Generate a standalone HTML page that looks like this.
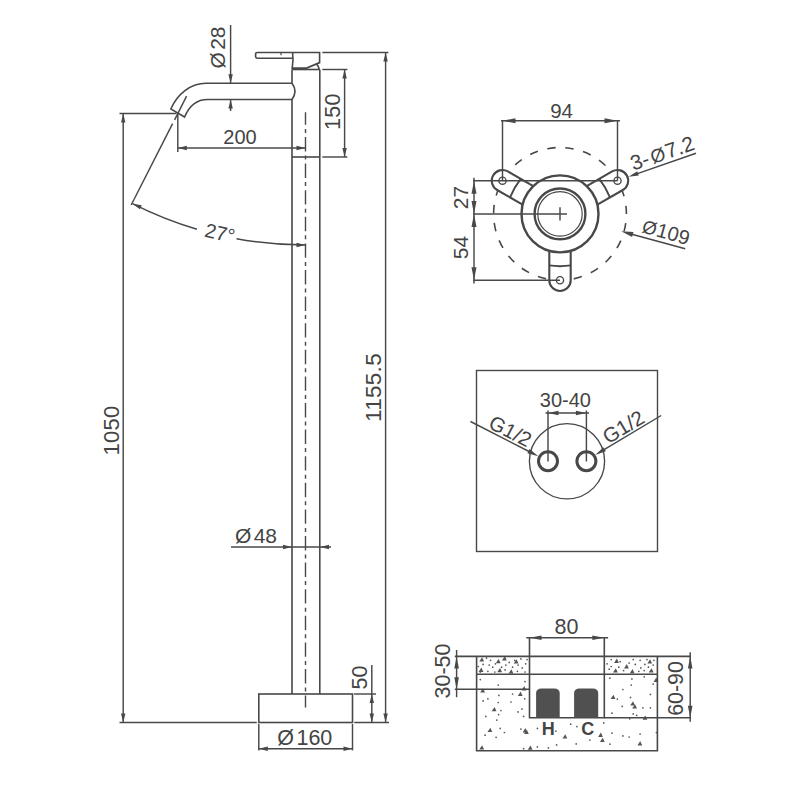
<!DOCTYPE html>
<html lang="en">
<head>
<meta charset="utf-8">
<title>Freestanding mixer – dimension drawing</title>
<style>
html,body{margin:0;padding:0;background:#fff;}
body{width:800px;height:800px;overflow:hidden;}
svg{display:block;}
svg text{font-family:"Liberation Sans",Arial,Helvetica,sans-serif;fill:#444444;stroke:none;}
</style>
</head>
<body>
<svg width="800" height="800" viewBox="0 0 800 800" fill="none" stroke="#484848" stroke-linecap="butt" stroke-linejoin="miter">
<rect x="0" y="0" width="800" height="800" fill="#ffffff" stroke="none"/>
<g id="main-view">
<path d="M292.0,69.5 L292.0,83.2 Q298.0,91.3 292.0,99.5 L292.0,694.0" stroke-width="1.6" />
<line x1="319.80" y1="69.50" x2="319.80" y2="694.00" stroke-width="1.6" />
<line x1="292.00" y1="69.50" x2="319.80" y2="69.50" stroke-width="1.6" />
<line x1="292.00" y1="157.00" x2="319.80" y2="157.00" stroke-width="1.6" />
<rect x="258.8" y="694.0" width="93.69999999999999" height="28.5" fill="none" stroke-width="1.6"/>
<path d="M292.6,58.2 L257.2,58.2 Q255.6,58.2 255.6,56.6 L255.6,54.1 Q255.6,52.5 257.2,52.5 L319.6,52.5 L319.6,62.6 L306.6,68.1 L292.2,68.1 Q293.6,60 292.6,52.5" stroke-width="1.6" />
<path d="M316.6,64.2 Q318.6,66 319.2,69.5" stroke-width="1.6" />
<line x1="281.00" y1="52.50" x2="281.00" y2="55.20" stroke-width="1.2" />
<path d="M292.0,83.2 L206,83.2 C191,83.2 177.5,93.5 170.8,109 L184.6,117 C189,106.5 196.5,99.5 207.5,99.5 L292.0,99.5" stroke-width="1.6" />
<line x1="186.60" y1="96.20" x2="174.60" y2="119.80" stroke-width="1.45" />
<line x1="172.60" y1="123.70" x2="131.20" y2="205.00" stroke-width="1.45" />
<path d="M132.53,203.63 A382.3,382.3 0 0 0 196.92,229.26" stroke-width="1.45" />
<path d="M236.49,238.72 A382.3,382.3 0 0 0 305.50,245.00" stroke-width="1.45" />
<polygon points="132.53,203.63 141.68,205.14 139.95,209.19" fill="#484848" stroke="none"/>
<polygon points="305.50,245.00 296.50,247.20 296.50,242.80" fill="#484848" stroke="none"/>
<text x="218.40" y="240.00" font-size="20" text-anchor="middle" transform="rotate(13 218.40 240.00)" >27°</text>
<line x1="305.5" y1="112.3" x2="305.5" y2="707.6" stroke-width="1.4" stroke-dasharray="14.4 4.1 4 4.1" stroke-dashoffset="1.9"/>
<line x1="119.50" y1="113.50" x2="176.50" y2="113.50" stroke-width="1.45" />
<line x1="119.50" y1="722.50" x2="256.80" y2="722.50" stroke-width="1.45" />
<line x1="123.20" y1="113.50" x2="123.20" y2="722.50" stroke-width="1.45" />
<polygon points="123.20,113.50 125.40,122.50 121.00,122.50" fill="#484848" stroke="none"/>
<polygon points="123.20,722.50 121.00,713.50 125.40,713.50" fill="#484848" stroke="none"/>
<text x="119.30" y="430.50" font-size="22" text-anchor="middle" transform="rotate(-90 119.30 430.50)" letter-spacing="0.2">1050</text>
<line x1="322.30" y1="52.40" x2="388.40" y2="52.40" stroke-width="1.45" />
<line x1="354.30" y1="722.50" x2="389.00" y2="722.50" stroke-width="1.45" />
<line x1="385.60" y1="52.40" x2="385.60" y2="722.50" stroke-width="1.45" />
<polygon points="385.60,52.40 387.80,61.40 383.40,61.40" fill="#484848" stroke="none"/>
<polygon points="385.60,722.50 383.40,713.50 387.80,713.50" fill="#484848" stroke="none"/>
<text x="381.20" y="387.50" font-size="22.5" text-anchor="middle" transform="rotate(-90 381.20 387.50)" letter-spacing="0.3">1155.5</text>
<line x1="322.30" y1="69.50" x2="347.40" y2="69.50" stroke-width="1.45" />
<line x1="322.30" y1="157.00" x2="347.40" y2="157.00" stroke-width="1.45" />
<line x1="344.60" y1="69.50" x2="344.60" y2="157.00" stroke-width="1.45" />
<polygon points="344.60,69.50 346.80,78.50 342.40,78.50" fill="#484848" stroke="none"/>
<polygon points="344.60,157.00 342.40,148.00 346.80,148.00" fill="#484848" stroke="none"/>
<text x="340.40" y="111.50" font-size="21.5" text-anchor="middle" transform="rotate(-90 340.40 111.50)" letter-spacing="0.3">150</text>
<line x1="177.80" y1="113.50" x2="177.80" y2="152.00" stroke-width="1.45" />
<line x1="177.80" y1="148.00" x2="305.50" y2="148.00" stroke-width="1.45" />
<polygon points="177.80,148.00 186.80,145.80 186.80,150.20" fill="#484848" stroke="none"/>
<polygon points="305.50,148.00 296.50,150.20 296.50,145.80" fill="#484848" stroke="none"/>
<text x="240.00" y="144.20" font-size="20" text-anchor="middle" >200</text>
<line x1="230.60" y1="25.00" x2="230.60" y2="83.20" stroke-width="1.45" />
<line x1="230.60" y1="99.50" x2="230.60" y2="111.00" stroke-width="1.45" />
<polygon points="230.60,83.20 228.40,74.20 232.80,74.20" fill="#484848" stroke="none"/>
<polygon points="230.60,99.50 232.80,108.50 228.40,108.50" fill="#484848" stroke="none"/>
<text x="225.40" y="47.50" font-size="21" text-anchor="middle" transform="rotate(-90 225.40 47.50)" >Ø<tspan dx="2.4">28</tspan></text>
<line x1="231.00" y1="547.00" x2="331.00" y2="547.00" stroke-width="1.45" />
<polygon points="292.00,547.00 283.00,549.20 283.00,544.80" fill="#484848" stroke="none"/>
<polygon points="320.00,547.00 329.00,544.80 329.00,549.20" fill="#484848" stroke="none"/>
<text x="256.00" y="543.00" font-size="21" text-anchor="middle" >Ø<tspan dx="2.4">48</tspan></text>
<line x1="354.00" y1="694.00" x2="376.00" y2="694.00" stroke-width="1.45" />
<line x1="371.80" y1="665.00" x2="371.80" y2="722.50" stroke-width="1.45" />
<polygon points="371.80,694.00 374.00,703.00 369.60,703.00" fill="#484848" stroke="none"/>
<polygon points="371.80,722.50 369.60,713.50 374.00,713.50" fill="#484848" stroke="none"/>
<text x="367.40" y="677.50" font-size="21.5" text-anchor="middle" transform="rotate(-90 367.40 677.50)" >50</text>
<line x1="258.80" y1="724.00" x2="258.80" y2="750.40" stroke-width="1.45" />
<line x1="352.50" y1="724.00" x2="352.50" y2="750.40" stroke-width="1.45" />
<line x1="258.80" y1="748.80" x2="352.50" y2="748.80" stroke-width="1.45" />
<polygon points="258.80,748.80 267.80,746.60 267.80,751.00" fill="#484848" stroke="none"/>
<polygon points="352.50,748.80 343.50,751.00 343.50,746.60" fill="#484848" stroke="none"/>
<text x="304.80" y="745.00" font-size="21.5" text-anchor="middle" >Ø<tspan dx="2.4">160</tspan></text>
</g>
<g id="flange-view">
<circle cx="560.0" cy="213.9" r="66.4" fill="none" stroke-width="1.6" stroke-dasharray="8.4 9.74" stroke-dashoffset="8.8"/>
<path d="M532.87,185.88 L507.85,171.43 A10.7,10.7 0 0 0 497.15,189.97 L522.17,204.42" fill="#fff" stroke-width="2.1"/>
<path d="M520.75,178.88 Q514.01,187.35 510.05,197.42" fill="none" stroke-width="1.9"/>
<circle cx="502.50" cy="180.70" r="3.6" fill="none" stroke-width="1.35"/>
<path d="M597.83,204.42 L622.85,189.97 A10.7,10.7 0 0 0 612.15,171.43 L587.13,185.88" fill="#fff" stroke-width="2.1"/>
<path d="M609.95,197.42 Q605.99,187.35 599.25,178.88" fill="none" stroke-width="1.9"/>
<circle cx="617.50" cy="180.70" r="3.6" fill="none" stroke-width="1.35"/>
<path d="M549.30,251.40 L549.30,280.30 A10.7,10.7 0 0 0 570.70,280.30 L570.70,251.40" fill="#fff" stroke-width="2.1"/>
<path d="M549.30,265.40 Q560.00,267.00 570.70,265.40" fill="none" stroke-width="1.9"/>
<circle cx="560.00" cy="280.30" r="3.6" fill="none" stroke-width="1.35"/>
<circle cx="560.0" cy="213.9" r="38.5" fill="#fff" stroke-width="2.4"/>
<circle cx="560.0" cy="213.9" r="25.4" fill="none" stroke-width="2.4"/>
<circle cx="560.0" cy="213.9" r="22.2" fill="none" stroke-width="1.2"/>
<line x1="560.00" y1="207.30" x2="560.00" y2="220.50" stroke-width="1.45" />
<line x1="473.00" y1="180.70" x2="617.50" y2="180.70" stroke-width="1.45" />
<line x1="473.00" y1="213.90" x2="567.00" y2="213.90" stroke-width="1.45" />
<line x1="473.00" y1="280.30" x2="560.00" y2="280.30" stroke-width="1.45" />
<line x1="474.00" y1="177.70" x2="474.00" y2="283.50" stroke-width="1.45" />
<polygon points="474.00,180.70 476.50,193.70 471.50,193.70" fill="#484848" stroke="none"/>
<polygon points="474.00,213.90 471.50,200.90 476.50,200.90" fill="#484848" stroke="none"/>
<polygon points="474.00,213.90 476.50,226.90 471.50,226.90" fill="#484848" stroke="none"/>
<polygon points="474.00,280.30 471.50,267.30 476.50,267.30" fill="#484848" stroke="none"/>
<text x="467.60" y="197.50" font-size="21" text-anchor="middle" transform="rotate(-90 467.60 197.50)" >27</text>
<text x="467.60" y="247.50" font-size="21" text-anchor="middle" transform="rotate(-90 467.60 247.50)" >54</text>
<line x1="502.50" y1="120.20" x2="502.50" y2="180.70" stroke-width="1.45" />
<line x1="617.50" y1="120.20" x2="617.50" y2="180.70" stroke-width="1.45" />
<line x1="501.00" y1="120.80" x2="620.00" y2="120.80" stroke-width="1.45" />
<polygon points="502.50,120.80 515.50,118.30 515.50,123.30" fill="#484848" stroke="none"/>
<polygon points="617.50,120.80 604.50,123.30 604.50,118.30" fill="#484848" stroke="none"/>
<text x="561.60" y="117.60" font-size="20.5" text-anchor="middle" >94</text>
<line x1="636.00" y1="174.10" x2="696.00" y2="153.20" stroke-width="1.45" />
<polygon points="628.60,176.70 637.29,171.24 638.80,175.58" fill="#484848" stroke="none"/>
<text x="664.5" y="160" font-size="21" text-anchor="middle" transform="rotate(-18.8 664.5 160)">3-<tspan dx="2.2" font-size="19">Ø</tspan><tspan dx="1.2">7.2</tspan></text>
<line x1="630.00" y1="233.70" x2="685.20" y2="248.80" stroke-width="1.45" />
<polygon points="621.20,231.30 633.43,232.06 632.12,236.88" fill="#484848" stroke="none"/>
<text x="664.2" y="238.6" font-size="20" text-anchor="middle" transform="rotate(15.8 664.2 238.6)"><tspan font-size="18.5">Ø</tspan><tspan dx="0.6">109</tspan></text>
</g>
<g id="plan-view">
<rect x="476.5" y="370.5" width="181" height="181" fill="none" stroke-width="1.4"/>
<circle cx="567" cy="461.3" r="37.6" fill="none" stroke-width="1.35"/>
<circle cx="548" cy="461.2" r="9.5" fill="none" stroke-width="3"/>
<circle cx="586.4" cy="461.2" r="9.5" fill="none" stroke-width="3"/>
<line x1="548.00" y1="410.50" x2="548.00" y2="461.50" stroke-width="1.45" />
<line x1="586.40" y1="410.50" x2="586.40" y2="461.50" stroke-width="1.45" />
<line x1="545.50" y1="413.00" x2="589.00" y2="413.00" stroke-width="1.45" />
<polygon points="548.00,413.00 558.50,410.80 558.50,415.20" fill="#484848" stroke="none"/>
<polygon points="586.40,413.00 575.90,415.20 575.90,410.80" fill="#484848" stroke="none"/>
<text x="565.40" y="407.00" font-size="20" text-anchor="middle" >30-40</text>
<line x1="470.50" y1="421.50" x2="532.00" y2="453.00" stroke-width="1.45" />
<polygon points="538.30,456.20 527.41,453.33 529.60,449.05" fill="#484848" stroke="none"/>
<text x="507.10" y="437.40" font-size="20.5" text-anchor="middle" transform="rotate(27.4 507.10 437.40)" >G1/2</text>
<line x1="661.20" y1="415.50" x2="602.00" y2="450.80" stroke-width="1.45" />
<polygon points="595.20,454.90 603.42,447.21 605.88,451.33" fill="#484848" stroke="none"/>
<text x="627.00" y="433.00" font-size="20.5" text-anchor="middle" transform="rotate(-30.8 627.00 433.00)" >G1/2</text>
</g>
<g id="section-view">
<g fill="#555" stroke="none"><circle cx="490.6" cy="660.3" r="0.85"/><circle cx="492.7" cy="667.2" r="0.85"/><circle cx="483.1" cy="664.4" r="0.85"/><circle cx="505.8" cy="665.1" r="0.85"/><circle cx="512.6" cy="667.2" r="0.85"/><circle cx="514.7" cy="660.3" r="0.85"/><circle cx="520.9" cy="658.9" r="0.85"/><circle cx="525.7" cy="663.8" r="0.85"/><circle cx="525.0" cy="672.0" r="0.85"/><circle cx="487.9" cy="671.3" r="0.85"/><circle cx="505.1" cy="669.9" r="0.85"/><circle cx="517.4" cy="671.3" r="0.85"/><circle cx="486.5" cy="658.2" r="0.85"/><circle cx="495.4" cy="663.8" r="0.85"/><circle cx="501.6" cy="667.2" r="0.85"/><circle cx="509.2" cy="662.4" r="0.85"/><circle cx="522.2" cy="667.9" r="0.85"/><circle cx="478.2" cy="666.5" r="0.85"/><circle cx="489.2" cy="665.1" r="0.85"/><circle cx="518.1" cy="665.1" r="0.85"/><circle cx="480.3" cy="672.0" r="0.85"/><circle cx="494.8" cy="672.0" r="0.85"/><circle cx="527.1" cy="659.6" r="0.85"/><circle cx="480.3" cy="679.6" r="0.85"/><circle cx="498.2" cy="685.1" r="0.85"/><circle cx="525.0" cy="681.6" r="0.85"/><circle cx="498.9" cy="695.4" r="0.85"/><circle cx="512.6" cy="694.0" r="0.85"/><circle cx="487.9" cy="698.8" r="0.85"/><circle cx="483.1" cy="700.9" r="0.85"/><circle cx="498.2" cy="702.5" r="0.85"/><circle cx="511.0" cy="702.0" r="0.85"/><circle cx="524.7" cy="698.8" r="0.85"/><circle cx="500.9" cy="710.5" r="0.85"/><circle cx="522.0" cy="708.9" r="0.85"/><circle cx="518.1" cy="711.9" r="0.85"/><circle cx="498.6" cy="714.6" r="0.85"/><circle cx="485.8" cy="716.4" r="0.85"/><circle cx="523.6" cy="716.4" r="0.85"/><circle cx="496.8" cy="720.1" r="0.85"/><circle cx="500.2" cy="728.4" r="0.85"/><circle cx="504.4" cy="732.5" r="0.85"/><circle cx="485.1" cy="735.2" r="0.85"/><circle cx="496.1" cy="737.3" r="0.85"/><circle cx="520.9" cy="729.1" r="0.85"/><circle cx="537.4" cy="728.4" r="0.85"/><circle cx="555.9" cy="731.1" r="0.85"/><circle cx="556.6" cy="744.9" r="0.85"/><circle cx="548.4" cy="747.9" r="0.85"/><circle cx="537.4" cy="746.9" r="0.85"/><circle cx="523.6" cy="748.7" r="0.85"/><circle cx="607.1" cy="663.8" r="0.85"/><circle cx="611.2" cy="666.5" r="0.85"/><circle cx="633.2" cy="659.6" r="0.85"/><circle cx="640.1" cy="660.3" r="0.85"/><circle cx="635.3" cy="664.4" r="0.85"/><circle cx="640.8" cy="667.9" r="0.85"/><circle cx="647.0" cy="659.6" r="0.85"/><circle cx="653.2" cy="665.1" r="0.85"/><circle cx="648.4" cy="667.2" r="0.85"/><circle cx="620.2" cy="661.7" r="0.85"/><circle cx="623.6" cy="670.6" r="0.85"/><circle cx="611.2" cy="659.6" r="0.85"/><circle cx="609.2" cy="669.2" r="0.85"/><circle cx="629.1" cy="663.1" r="0.85"/><circle cx="644.9" cy="664.4" r="0.85"/><circle cx="653.9" cy="660.3" r="0.85"/><circle cx="638.8" cy="671.3" r="0.85"/><circle cx="618.8" cy="667.2" r="0.85"/><circle cx="644.2" cy="670.6" r="0.85"/><circle cx="609.9" cy="678.2" r="0.85"/><circle cx="631.9" cy="678.9" r="0.85"/><circle cx="644.2" cy="676.8" r="0.85"/><circle cx="631.2" cy="685.1" r="0.85"/><circle cx="653.2" cy="684.1" r="0.85"/><circle cx="622.9" cy="689.5" r="0.85"/><circle cx="650.4" cy="694.4" r="0.85"/><circle cx="617.4" cy="699.1" r="0.85"/><circle cx="630.5" cy="697.4" r="0.85"/><circle cx="622.2" cy="706.4" r="0.85"/><circle cx="642.9" cy="707.8" r="0.85"/><circle cx="650.4" cy="707.8" r="0.85"/><circle cx="611.9" cy="713.2" r="0.85"/><circle cx="633.2" cy="713.9" r="0.85"/><circle cx="636.7" cy="715.3" r="0.85"/><circle cx="629.8" cy="718.8" r="0.85"/><circle cx="603.7" cy="722.9" r="0.85"/><circle cx="611.9" cy="733.2" r="0.85"/><circle cx="622.9" cy="735.9" r="0.85"/><circle cx="629.1" cy="737.0" r="0.85"/><circle cx="640.1" cy="734.1" r="0.85"/><circle cx="609.9" cy="744.2" r="0.85"/><circle cx="589.9" cy="740.1" r="0.85"/><circle cx="576.2" cy="743.9" r="0.85"/><circle cx="576.9" cy="726.6" r="0.85"/><circle cx="570.7" cy="724.2" r="0.85"/><circle cx="656.4" cy="732.5" r="0.85"/><polygon points="483.0,688.2 485.0,692.5 480.2,692.5"/><polygon points="520.6,691.6 522.6,695.9 517.8,695.9"/><polygon points="524.3,686.1 526.3,690.4 521.5,690.4"/><polygon points="494.5,707.0 496.5,711.3 491.7,711.3"/><polygon points="490.3,727.8 492.3,732.1 487.5,732.1"/><polygon points="526.8,729.8 528.8,734.1 524.0,734.1"/><polygon points="525.4,728.0 527.4,732.4 522.6,732.4"/><polygon points="482.1,745.2 484.1,749.5 479.3,749.5"/><polygon points="530.5,745.5 532.5,749.8 527.7,749.8"/><polygon points="565.3,734.2 567.3,738.5 562.5,738.5"/><polygon points="482.1,657.2 484.1,661.5 479.3,661.5"/><polygon points="498.6,658.9 500.6,663.2 495.8,663.2"/><polygon points="516.5,659.3 518.5,663.6 513.7,663.6"/><polygon points="481.4,667.5 483.4,671.9 478.6,671.9"/><polygon points="500.0,668.0 502.0,672.3 497.2,672.3"/><polygon points="511.4,669.3 513.4,673.6 508.6,673.6"/><polygon points="504.8,656.1 506.8,660.4 502.0,660.4"/><polygon points="613.4,694.8 615.4,699.1 610.6,699.1"/><polygon points="633.0,701.2 635.0,705.5 630.2,705.5"/><polygon points="635.0,704.2 637.0,708.6 632.2,708.6"/><polygon points="645.3,715.4 647.3,719.7 642.5,719.7"/><polygon points="600.9,732.6 602.9,736.9 598.1,736.9"/><polygon points="602.7,737.7 604.7,742.0 599.9,742.0"/><polygon points="640.2,741.1 642.2,745.4 637.5,745.4"/><polygon points="656.3,677.6 658.3,681.9 653.5,681.9"/><polygon points="616.9,658.6 618.9,662.9 614.1,662.9"/><polygon points="626.8,664.1 628.8,668.4 624.0,668.4"/><polygon points="615.8,668.2 617.8,672.5 613.0,672.5"/><polygon points="632.5,668.9 634.5,673.2 629.8,673.2"/><polygon points="651.5,668.2 653.5,672.5 648.7,672.5"/><polygon points="650.1,659.3 652.1,663.6 647.4,663.6"/></g>
<path d="M476.6,656.4 L476.6,750.8 L657.4,750.8 L657.4,656.4" stroke-width="1.6" />
<path d="M529.5,637.2 L529.5,717.7 L604.3,717.7 L604.3,637.2" stroke-width="1.6" />
<line x1="454.80" y1="656.40" x2="691.00" y2="656.40" stroke-width="1.6" />
<line x1="476.60" y1="674.20" x2="657.40" y2="674.20" stroke-width="1.6" />
<line x1="454.80" y1="689.30" x2="529.50" y2="689.30" stroke-width="1.5" />
<line x1="604.30" y1="717.70" x2="691.00" y2="717.70" stroke-width="1.6" />
<path d="M536.1,717.7 L536.1,692.6999999999999 Q536.3000000000001,688.9 541.6,688.5999999999999 L554.2,688.5999999999999 Q559.5,688.9 559.7,692.6999999999999 L559.7,717.7 Z" fill="#505050" stroke="none"/>
<path d="M574.1,717.7 L574.1,692.6999999999999 Q574.3000000000001,688.9 579.6,688.5999999999999 L592.7,688.5999999999999 Q598.0,688.9 598.2,692.6999999999999 L598.2,717.7 Z" fill="#505050" stroke="none"/>
<text x="548.30" y="734.60" font-size="18" text-anchor="middle" font-weight="bold">H</text>
<text x="587.80" y="734.60" font-size="18" text-anchor="middle" font-weight="bold">C</text>
<line x1="526.30" y1="637.80" x2="608.10" y2="637.80" stroke-width="1.45" />
<polygon points="529.50,637.80 541.50,635.50 541.50,640.10" fill="#484848" stroke="none"/>
<polygon points="604.30,637.80 592.30,640.10 592.30,635.50" fill="#484848" stroke="none"/>
<text x="566.50" y="634.00" font-size="21.5" text-anchor="middle" >80</text>
<line x1="456.60" y1="650.00" x2="456.60" y2="697.20" stroke-width="1.45" />
<polygon points="456.60,656.40 458.90,668.40 454.30,668.40" fill="#484848" stroke="none"/>
<polygon points="456.60,689.30 454.30,677.30 458.90,677.30" fill="#484848" stroke="none"/>
<text x="450.20" y="671.00" font-size="21.5" text-anchor="middle" transform="rotate(-90 450.20 671.00)" >30-50</text>
<line x1="690.20" y1="652.20" x2="690.20" y2="721.80" stroke-width="1.45" />
<polygon points="690.20,656.40 692.50,668.40 687.90,668.40" fill="#484848" stroke="none"/>
<polygon points="690.20,717.70 687.90,705.70 692.50,705.70" fill="#484848" stroke="none"/>
<text x="0.00" y="0.00" font-size="23" text-anchor="middle" transform="translate(683.40 688.50) rotate(-90) scale(0.93 1)" >60-90</text>
</g>
</svg>
</body>
</html>
